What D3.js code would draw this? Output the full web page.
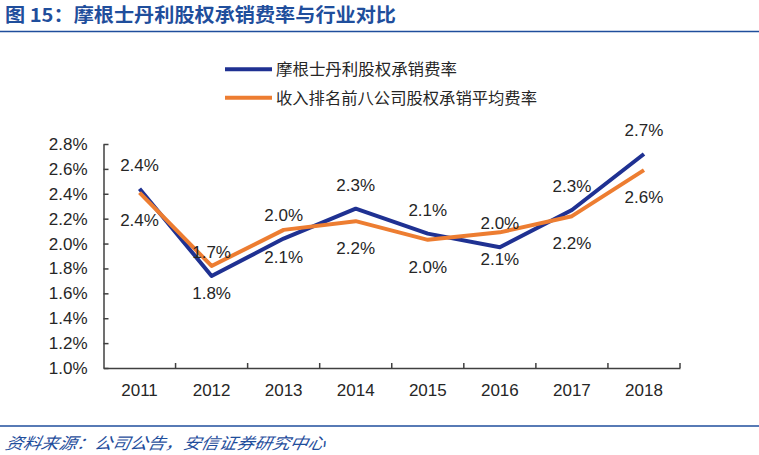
<!DOCTYPE html>
<html>
<head>
<meta charset="utf-8">
<script src="https://cdn.jsdelivr.net/npm/d3@7"></script>
<style>
  html, body { margin: 0; padding: 0; background: #fff; }
  svg { display: block; }
</style>
</head>
<body>
<svg id="chart" width="759" height="455"></svg>
<script>
const years = ["2011","2012","2013","2014","2015","2016","2017","2018"];
const msRate = [2.44, 1.74, 2.04, 2.28, 2.08, 1.97, 2.27, 2.72];
const top8Rate = [2.41, 1.82, 2.11, 2.18, 2.03, 2.09, 2.22, 2.59];
const yTicks = [1.0, 1.2, 1.4, 1.6, 1.8, 2.0, 2.2, 2.4, 2.6, 2.8];
const seriesNames = ["摩根士丹利股权承销费率", "收入排名前八公司股权承销平均费率"];
const titleText = "图 15：摩根士丹利股权承销费率与行业对比";
const sourceText = "资料来源：公司公告，安信证券研究中心";

const blue = "#1f3192", orange = "#ed7d31", axisCol = "#404040", txt = "#262626", brand = "#1f4e9c";
const numFont = "'Liberation Sans', Arial, sans-serif";
const cjkFont = "'Noto Sans CJK SC', sans-serif";

const svg = d3.select("#chart");

// title and rules
svg.append("text").attr("x", 5).attr("y", 22)
  .attr("font-family", cjkFont).attr("font-weight", "bold").attr("font-size", 19)
  .attr("fill", brand).attr("textLength", 391).attr("lengthAdjust", "spacingAndGlyphs")
  .text(titleText);
svg.append("line").attr("x1", 0).attr("x2", 759).attr("y1", 31.5).attr("y2", 31.5)
  .attr("stroke", brand).attr("stroke-width", 1.3);
svg.append("line").attr("x1", 0).attr("x2", 759).attr("y1", 426).attr("y2", 426)
  .attr("stroke", brand).attr("stroke-width", 1.3);
svg.append("text").attr("x", 5).attr("y", 449)
  .attr("font-family", cjkFont).attr("font-style", "italic").attr("font-size", 16)
  .attr("fill", brand).attr("textLength", 320).attr("lengthAdjust", "spacingAndGlyphs")
  .attr("transform", "skewX(-12) translate(95,0)")
  .text(sourceText);

// scales
const x = d3.scaleBand().domain(years).range([103.5, 680]);
const y = d3.scaleLinear().domain([1.0, 2.8]).range([368, 144]);
const cx = d => x(d) + x.bandwidth() / 2;

// y axis
const gy = svg.append("g").attr("transform", "translate(103.5,0)")
  .call(d3.axisLeft(y).tickValues(yTicks).tickSize(-5).tickSizeOuter(0).tickPadding(16)
    .tickFormat(d => d.toFixed(1) + "%"));
gy.select(".domain").attr("stroke", axisCol).attr("stroke-width", 1.5);
gy.selectAll(".tick line").attr("stroke", axisCol).attr("stroke-width", 1.5);
gy.selectAll(".tick text").attr("font-family", numFont).attr("font-size", 17).attr("fill", txt);

// x axis
const gx = svg.append("g").attr("transform", "translate(0,368)")
  .call(d3.axisBottom(x).tickSize(0).tickSizeOuter(0).tickPadding(16));
gx.select(".domain").attr("stroke", axisCol).attr("stroke-width", 1.5);
gx.selectAll(".tick text").attr("font-family", numFont).attr("font-size", 17).attr("fill", txt);
const bounds = years.slice(1).map(d => x(d)).concat([x.range()[1]]);
svg.append("g").selectAll("line").data(bounds).join("line")
  .attr("x1", d => d).attr("x2", d => d).attr("y1", 368).attr("y2", 363)
  .attr("stroke", axisCol).attr("stroke-width", 1.5);

// lines
const line = d3.line().x((d, i) => cx(years[i])).y(d => y(d));
svg.append("path").datum(msRate).attr("d", line)
  .attr("fill", "none").attr("stroke", blue).attr("stroke-width", 4).attr("stroke-linejoin", "round");
svg.append("path").datum(top8Rate).attr("d", line)
  .attr("fill", "none").attr("stroke", orange).attr("stroke-width", 4).attr("stroke-linejoin", "round");

// data labels: blue above, orange below
svg.append("g").selectAll("text").data(msRate).join("text")
  .attr("x", (d, i) => cx(years[i])).attr("y", d => y(d) - 18)
  .attr("text-anchor", "middle").attr("font-family", numFont).attr("font-size", 17).attr("fill", txt)
  .text(d => d.toFixed(1) + "%");
svg.append("g").selectAll("text").data(top8Rate).join("text")
  .attr("x", (d, i) => cx(years[i])).attr("y", d => y(d) + 33)
  .attr("text-anchor", "middle").attr("font-family", numFont).attr("font-size", 17).attr("fill", txt)
  .text(d => d.toFixed(1) + "%");

// legend
const legend = svg.append("g");
const legItems = [{name: seriesNames[0], color: blue, y: 69.3, len: 181}, {name: seriesNames[1], color: orange, y: 97.7, len: 261}];
legItems.forEach(it => {
  legend.append("line").attr("x1", 225).attr("x2", 272).attr("y1", it.y).attr("y2", it.y)
    .attr("stroke", it.color).attr("stroke-width", 4);
  legend.append("text").attr("x", 276).attr("y", it.y + 6)
    .attr("font-family", cjkFont).attr("font-size", 16).attr("fill", txt)
    .attr("textLength", it.len).attr("lengthAdjust", "spacingAndGlyphs")
    .text(it.name);
});
</script>
</body>
</html>
